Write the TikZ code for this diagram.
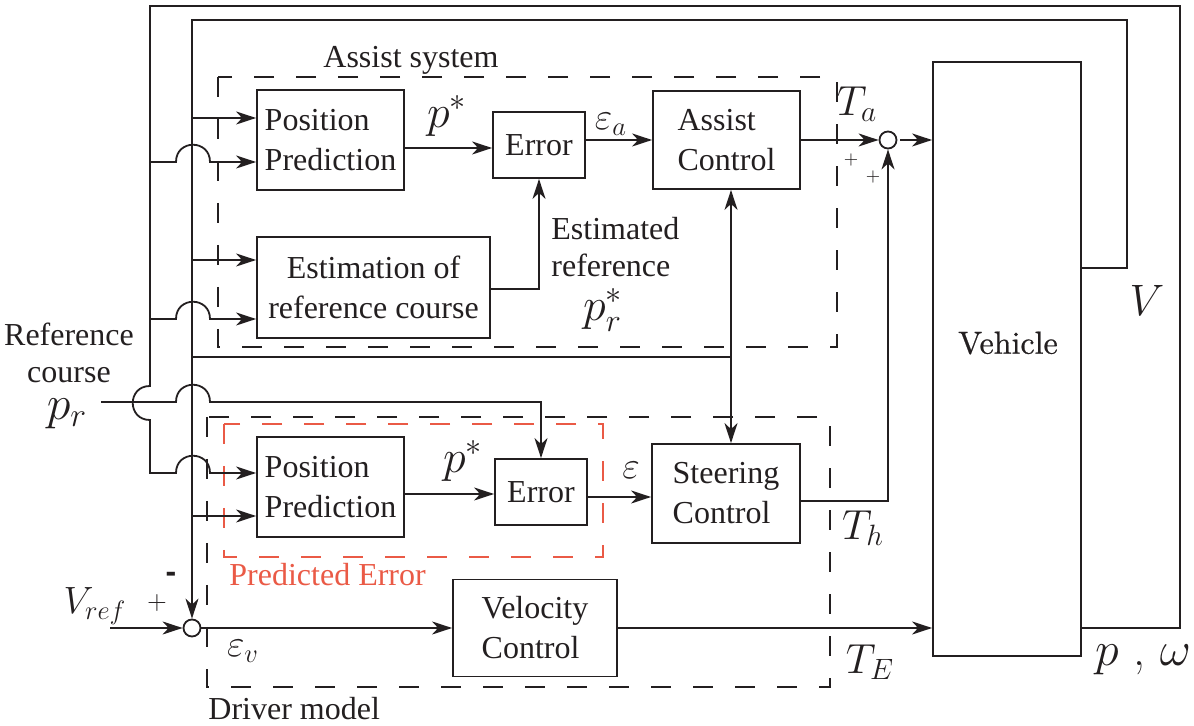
\RequirePackage{fix-cm}
\documentclass[tikz,border=0pt]{standalone}
\usepackage{fontspec}
\newfontfamily\tms{Liberation Serif}
\newfontfamily\sansb{Liberation Sans}
\newfontfamily\lmb{lmroman10-regular}[Extension=.otf,FakeBold=0.6]
\usetikzlibrary{arrows.meta}
\definecolor{ink}{RGB}{35,31,32}
\definecolor{pred}{RGB}{234,90,70}
\begin{document}
\begin{tikzpicture}[x=0.5pt,y=-0.5pt,color=ink,
  blk/.style={draw,line width=0.9pt,inner sep=0pt,align=left,
    font=\tms\fontsize{16}{20}\selectfont},
  wire/.style={line width=0.9pt},
  arr/.style={line width=0.9pt,-{Stealth[length=10pt,width=6.5pt,inset=3pt]}},
  grp/.style={line width=0.8pt,dash pattern=on 10pt off 11pt},
  txt/.style={font=\tms\fontsize{16}{18.5}\selectfont,inner sep=0pt},
  mth/.style={inner sep=0pt,font=\fontsize{#1}{#1}\selectfont},
  sum/.style={draw,circle,line width=0.9pt,inner sep=0pt,minimum size=8.5pt}]
\useasboundingbox (0,0) rectangle (1194,726);

% group frames
\draw[grp] (218,77) rectangle (837,347);
\draw[grp] (207,417) rectangle (830,687);
\draw[grp,draw=pred] (224,424) rectangle (603,557);

% blocks
\node[blk,minimum width=73.5pt,minimum height=50pt] (ppA) at (330.5,140) {Position\\Prediction};
\node[blk,minimum width=46pt,minimum height=33pt] (errA) at (539,145) {Error};
\node[blk,minimum width=73.5pt,minimum height=49pt] (asc) at (726.5,140) {Assist\\Control};
\node[blk,align=center,minimum width=116.5pt,minimum height=50.5pt] (est) at (373.5,287.5) {Estimation of\\reference course};
\node[blk,minimum width=73.5pt,minimum height=50pt] (ppB) at (330.5,487) {Position\\Prediction};
\node[blk,minimum width=46pt,minimum height=33pt] (errB) at (541,492) {Error};
\node[blk,minimum width=74pt,minimum height=49.5pt] (stc) at (726,493.5) {Steering\\Control};
\node[blk,minimum width=82pt,minimum height=48.5pt] (vel) at (535,628) {Velocity\\Control};
\node[blk,minimum width=74pt,minimum height=297pt] (veh) at (1007,359) {};
\node[inner sep=0pt,font=\lmb\fontsize{16}{20}\selectfont] (tVeh) at (1008,343) {Vehicle};

\node[sum] (sumA) at (888,140) {};
\node[sum] (sumB) at (192,628) {};

% outer feedback p, omega
\draw[arr] (veh.east |- 0,628) -- (1180,628) -- (1180,6) -- (150,6) -- (150,386)
  .. controls (127,386) and (127,420) .. (150,420) -- (150,473) -- (176,473)
  .. controls (176,450) and (210,450) .. (210,473) -- (ppB.west |- 0,473);
\draw[arr] (150,162) -- (176,162) .. controls (176,139) and (210,139) .. (210,162) -- (ppA.west |- 0,162);
\draw[arr] (150,319) -- (176,319) .. controls (176,296) and (210,296) .. (210,319) -- (est.west |- 0,319);

% V bus
\draw[arr] (veh.east |- 0,268) -- (1127,268) -- (1127,20) -- (192,20) -- (sumB.north);
\draw[arr] (192,118) -- (ppA.west |- 0,118);
\draw[arr] (192,260) -- (est.west |- 0,260);
\draw[arr] (192,516) -- (ppB.west |- 0,516);
\coordinate (vj) at (731,357);
\draw[wire] (192,357) -- (vj);
\draw[arr] (vj) -- (vj |- asc.south);
\draw[arr] (vj) -- (vj |- stc.north);

% reference course input
\coordinate (prin) at (101,402);
\draw[arr] (prin) -- (176,402) .. controls (176,379) and (210,379) .. (210,402)
  -- (errB.north |- 0,402) -- (errB.north);

% velocity reference
\coordinate (vrefin) at (110,628);
\draw[arr] (vrefin) -- (sumB.west);

% forward paths
\draw[arr] (ppA.east |- 0,148) -- (errA.west |- 0,148);
\draw[arr] (errA.east |- 0,140) -- (asc.west |- 0,140);
\draw[arr] (asc.east) -- (sumA.west);
\draw[arr,shorten <=1.5pt] (sumA.east) -- (sumA.east -| veh.west);
\draw[arr] (est.east |- 0,289) -- (errA.south |- 0,289) -- (errA.south);
\draw[arr] (ppB.east |- 0,494) -- (errB.west |- 0,494);
\draw[arr] (errB.east |- 0,497) -- (stc.west |- 0,497);
\draw[arr] (stc.east |- 0,501) -- (sumA.south |- 0,501) -- (sumA.south);
\draw[arr] (sumB.east) -- (vel.west);
\draw[arr] (vel.east) -- (vel.east -| veh.west);

% text labels
\node[txt,anchor=base] (tAssist) at (411,68) {Assist system};
\node[txt,align=left,anchor=west] (tEst) at (551,247.5) {Estimated\\reference};
\node[txt,align=center] (tRef) at (69,352.5) {Reference\\course};
\node[txt,anchor=base west,text=pred] (tPE) at (229,586) {Predicted Error};
\node[txt,anchor=base west] (tDM) at (208,719) {Driver model};

% math labels
\node[mth=23] (lpA) at (447,116) {$p^*$};
\node[mth=19] (lea) at (611,124) {$\varepsilon_a$};
\node[mth=21] (lTa) at (857,104) {$T_a$};
\node[mth=23] (lprs) at (603,310) {$p_r^*$};
\node[mth=23] (lpB) at (463,461) {$p^*$};
\node[mth=19] (le) at (631,470) {$\varepsilon$};
\node[mth=21] (lTh) at (863,528) {$T_h$};
\node[mth=21] (lTE) at (870,662) {$T_E$};
\node[mth=22] (lV) at (1147,300) {$V$};
\node[mth=24] (lpw) at (1143,660) {$p$ , $\omega$};
\node[mth=24] (lpr) at (67,414) {$p_r$};
\node[mth=19] (lVref) at (95,606) {$V_{ref}$};
\node[mth=19] (lev) at (243,651) {$\varepsilon_v$};
\node[mth=9] (lpa1) at (851,160) {$+$};
\node[mth=9] (lpa2) at (873,177) {$+$};
\node[mth=13] (lpv) at (157,603) {$+$};
\node[inner sep=0pt,font=\sansb\bfseries\fontsize{16}{16}\selectfont] (lmv) at (171,577) {-};
\end{tikzpicture}
\end{document}
